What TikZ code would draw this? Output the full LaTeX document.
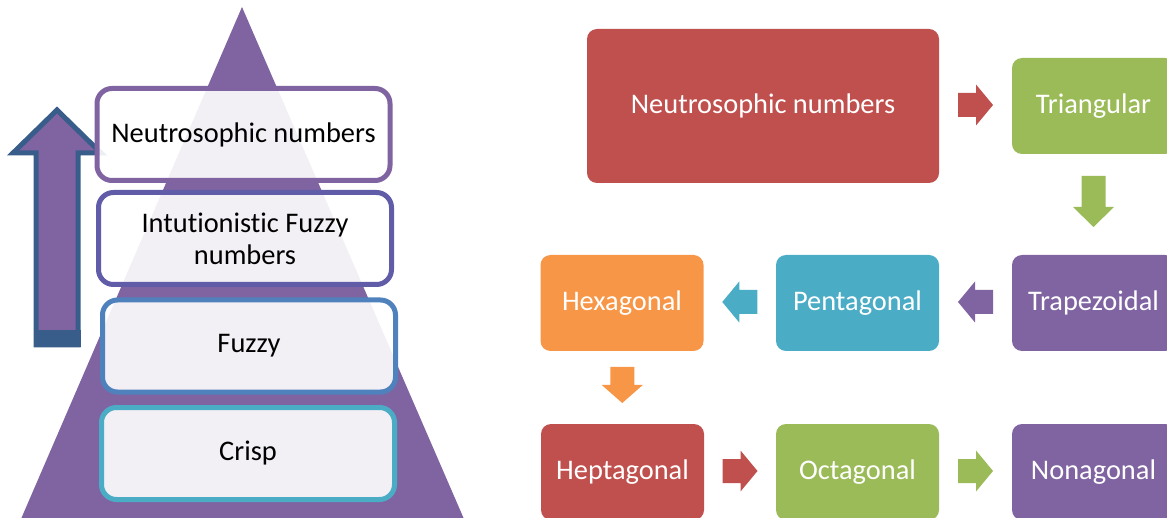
\documentclass[tikz,border=0pt]{standalone}
\usepackage{fontspec}
\setmainfont{Carlito}[Ligatures={NoCommon}]
\usetikzlibrary{calc}
\definecolor{cred}{HTML}{C0504D}
\definecolor{cgreen}{HTML}{9BBB59}
\definecolor{cpurple}{HTML}{8064A2}
\definecolor{cteal}{HTML}{4BACC6}
\definecolor{corange}{HTML}{F79646}
\definecolor{cviolet}{RGB}{96,92,168}
\definecolor{cblue}{RGB}{79,129,189}
\definecolor{cdark}{HTML}{385D8A}
\tikzset{
  every node/.style={font=\fontsize{28.4}{32}\selectfont},
  rbox/.style={rectangle, rounded corners=10pt, text=white, minimum height=96pt, minimum width=163pt, inner sep=0pt, align=center},
  lbox/.style={rectangle, rounded corners=15pt, line width=5pt, fill=white, fill opacity=0.9, text opacity=1, draw opacity=1, text=black, minimum width=293pt, minimum height=92pt, inner sep=0pt, align=center},
  pics/barrow/.style 2 args={code={
    \fill[pic actions] ({-(#1+#2)/2},-12) -- ({(#1-#2)/2},-12) -- ({(#1-#2)/2},-20.5) -- ({(#1+#2)/2},0) -- ({(#1-#2)/2},20.5) -- ({(#1-#2)/2},12) -- ({-(#1+#2)/2},12) -- cycle;
  }}
}
\begin{document}
\begin{tikzpicture}[x=1pt,y=-1pt]
\useasboundingbox (0,0) rectangle (1167,518);
\clip (0,0) rectangle (1167,518);
% pyramid
\fill[cpurple] (242,7) -- (464,519) -- (21,519) -- cycle;
% up arrow
\draw[cdark, fill=cpurple, line width=5pt, line join=miter] (36,345) -- (36,153) -- (13,153) -- (57,110) -- (101,153) -- (78,153) -- (78,345) -- cycle;
\fill[cdark] (33.5,330) rectangle (80.5,347);
% left boxes
\node[lbox, draw=cpurple] (l1) at (243.5,134.5) {Neutrosophic numbers};
\node[lbox, draw=cviolet] (l2) at (245,238.5) {Intutionistic Fuzzy\\numbers};
\node[lbox, draw=cblue] (l3) at (249,346) {Fuzzy};
\node[lbox, draw=cteal] (l4) at (248,453.5) {Crisp};
% right boxes
\node[rbox, fill=cred, minimum width=352pt, minimum height=154pt] (neu) at (763,106) {Neutrosophic numbers};
\node[rbox, fill=cgreen] (tri) at (1093.5,106) {Triangular};
\node[rbox, fill=cpurple] (trap) at (1093.5,303) {Trapezoidal};
\node[rbox, fill=cteal] (pent) at (857.5,303) {Pentagonal};
\node[rbox, fill=corange] (hex) at (622,303) {Hexagonal};
\node[rbox, fill=cred] (hept) at (622.5,472) {Heptagonal};
\node[rbox, fill=cgreen] (oct) at (857.5,472) {Octagonal};
\node[rbox, fill=cpurple] (non) at (1093.5,472) {Nonagonal};
% block arrows
\pic[fill=cred] at ($(neu.east)!0.5!(tri.west)+(0,-1)$) {barrow={18}{17}};
\pic[fill=cgreen, rotate=-90] at ($(tri.south)!0.5!(trap.north)+(0,-3)$) {barrow={31}{20}};
\pic[fill=cpurple, rotate=180] at ($(trap.west)!0.5!(pent.east)+(0,-1)$) {barrow={18}{17}};
\pic[fill=cteal, rotate=180] at ($(pent.west)!0.5!(hex.east)+(0,-1)$) {barrow={18}{17}};
\pic[fill=corange, rotate=-90] at ($(hex.south)!0.5!(hept.north)+(0,-2.5)$) {barrow={18}{18}};
\pic[fill=cred] at ($(hept.east)!0.5!(oct.west)+(0,-1)$) {barrow={18}{17}};
\pic[fill=cgreen] at ($(oct.east)!0.5!(non.west)+(0,-1)$) {barrow={18}{17}};
\end{tikzpicture}
\end{document}
